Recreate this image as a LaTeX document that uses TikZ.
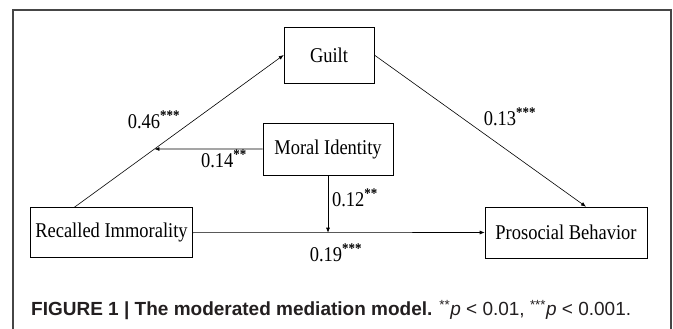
\documentclass[tikz,border=0pt]{standalone}
\usepackage{fontspec}
\setmainfont{Liberation Serif}[FakeStretch=0.88]
\newfontfamily\capfont{Liberation Sans}
\definecolor{frameGray}{RGB}{70,70,70}
\definecolor{capGray}{RGB}{35,31,32}
\usetikzlibrary{arrows.meta}

\begin{document}
\begin{tikzpicture}[x=1pt,y=-1pt,
  box/.style={rectangle,draw,line width=0.6pt,inner sep=0pt,font=\fontsize{21}{24}\selectfont},
  path/.style={line width=0.6pt,-{Latex[length=5pt,width=4pt]}},
  coef/.style={font=\fontsize{21}{24}\selectfont}]
\useasboundingbox (0,0) rectangle (673,329);
% frame
\draw[frameGray,line width=1.3pt] (13,340) -- (13,10) -- (671,10) -- (671,340);

% variables
\node[box,minimum width=90pt,minimum height=56pt] (guilt) at (329,55) {Guilt};
\node[box,minimum width=130pt,minimum height=52pt] (moral) at (328,149) {Moral Identity};
\node[box,minimum width=162pt,minimum height=50pt] (recalled) at (111.5,232.7) {Recalled Immorality};
\node[box,minimum width=162pt,minimum height=51pt] (prosocial) at (566,232.5) {Prosocial Behavior};

% paths
\coordinate (rtop) at ([xshift=44pt]recalled.north west);
\coordinate (ptop) at ([xshift=20pt]prosocial.north);
\coordinate (mleft) at (moral.west -| recalled.west);
\coordinate (modA) at (intersection of rtop--guilt.west and moral.west--mleft);
\coordinate (modB) at (moral.south |- recalled.east);
\draw[path] (rtop) -- (guilt.west);
\draw[path] (guilt.east) -- (ptop);
\draw[path] (recalled.east) -- (prosocial.west);
\draw[path] (moral.west) -- (modA);
\draw[path] (moral.south) -- (modB);

% coefficients
\node[coef] (cA) at (154,120) {0.46\textsuperscript{\textbf{***}}};
\node[coef] (cB) at (510,117) {0.13\textsuperscript{\textbf{***}}};
\node[coef] (cM1) at (224,159) {0.14\textsuperscript{\textbf{**}}};
\node[coef] (cM2) at (355,198) {0.12\textsuperscript{\textbf{**}}};
\node[coef] (cC) at (336,253) {0.19\textsuperscript{\textbf{***}}};

% caption
\node[anchor=west,inner sep=0pt,text=capGray,font=\capfont\fontsize{19}{22}\selectfont] (caption) at (31,310)
  {\textbf{FIGURE 1 | The moderated mediation model.} \textsuperscript{**}\textit{p} < 0.01, \textsuperscript{***}\textit{p} < 0.001.};
\end{tikzpicture}
\end{document}
